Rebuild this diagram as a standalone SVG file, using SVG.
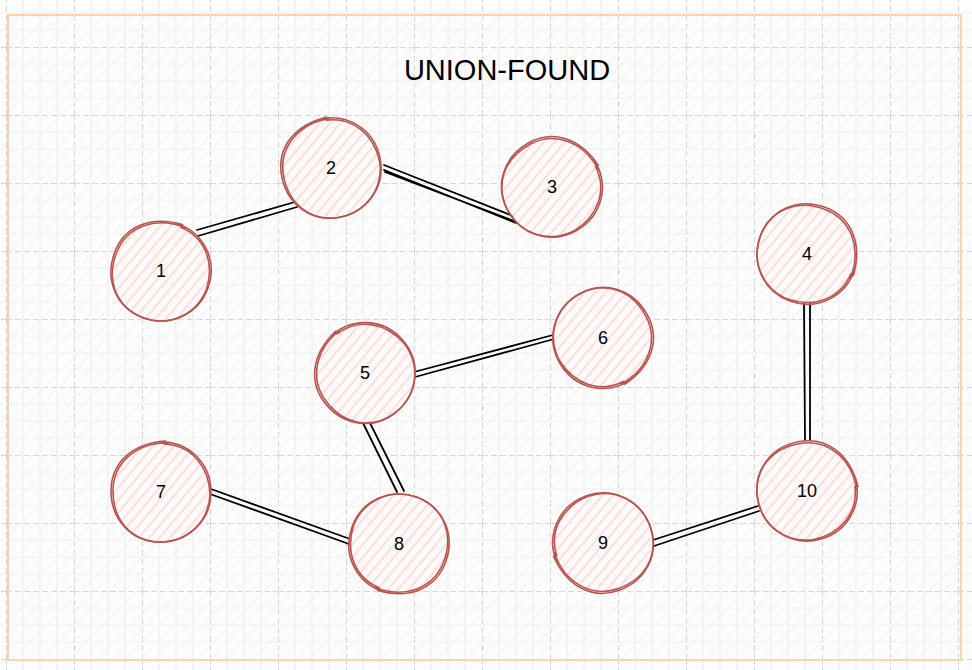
<svg xmlns="http://www.w3.org/2000/svg" xmlns:xlink="http://www.w3.org/1999/xlink" width="972" height="670" viewBox="0 0 972 670">
<defs>
<style>
.lbl{font-family:"Liberation Sans",Arial,sans-serif;font-size:18px;fill:#000;text-anchor:middle;dominant-baseline:central}
.title{font-family:"Liberation Sans",Arial,sans-serif;font-size:29px;fill:#000;text-anchor:middle}
.edge{stroke:#000;stroke-width:1.8;fill:none;stroke-linecap:round}
.ring{fill:none;stroke:#b85450;stroke-width:1.6}
.fill{fill:url(#nodehatch)}
</style>
<pattern id="grid" patternUnits="userSpaceOnUse" x="6" y="-21" width="68" height="68">
<path d="M17 0V68M34 0V68M51 0V68M0 17H68M0 34H68M0 51H68" stroke="#efefef" stroke-width="1.2"/>
<path d="M0.5 0V68M0 0.5H68" stroke="#d6d6d6" stroke-width="1" stroke-dasharray="6 3"/>
</pattern>
<pattern id="bghatch" patternUnits="userSpaceOnUse" width="10" height="10" patternTransform="rotate(-45)">
<path d="M0 5H10" stroke="#f1f1f1" stroke-width="1"/>
</pattern>
<pattern id="nodehatch" patternUnits="userSpaceOnUse" width="8" height="8" patternTransform="rotate(-50)">
<rect width="8" height="8" fill="#fffafa"/>
<path d="M0 4H8" stroke="#f6c4c2" stroke-width="1"/>
</pattern>
<g id="sk">
<path class="ring" d="M-4 -50 C 26 -52 50 -30 50 0 C 50 29 27 50 -1 50 C -29 50 -50 28 -50 -1 C -50 -28 -30 -49 5 -51"/>
<path class="ring" d="M3 -48 C 30 -47 48 -26 49 2 C 48 30 26 51 -3 50 C -31 48 -49 27 -48 -3 C -47 -29 -25 -50 8 -49"/>
</g>
</defs>
<rect width="972" height="670" fill="#fdfdfd"/>
<rect width="972" height="670" fill="url(#grid)"/>
<rect x="8" y="15" width="953" height="645" fill="url(#bghatch)"/>
<rect x="8" y="15" width="953" height="645" fill="none" stroke="#ffd3a8" stroke-width="2"/>
<text class="title" x="507" y="80">UNION-FOUND</text>
<g id="connectors">
<path class="edge" d="M197 230L295 202M198 236L297 207"/>
<path class="edge" d="M384 165L518 218M384 170L516 223M385 172L514 221"/>
<path class="edge" d="M414 372L553 335M415 377L554 339"/>
<path class="edge" d="M363 423L397 492M369 421L404 491"/>
<path class="edge" d="M211 489L350 539M210 494L349 544"/>
<path class="edge" d="M653 540L758 506M654 546L759 511"/>
<path class="edge" d="M804 304L805 440M810 304L810 440"/>
</g>
<g id="node1"><circle class="fill" cx="161" cy="271" r="49"/><use xlink:href="#sk" transform="translate(161,271) rotate(20)"/><text class="lbl" x="161" y="271">1</text></g>
<g id="node2"><circle class="fill" cx="331" cy="168" r="49"/><use xlink:href="#sk" transform="translate(331,168) rotate(-10)"/><text class="lbl" x="331" y="168">2</text></g>
<g id="node3"><circle class="fill" cx="552" cy="187" r="49"/><use xlink:href="#sk" transform="translate(552,187) rotate(60)"/><text class="lbl" x="552" y="187">3</text></g>
<g id="node4"><circle class="fill" cx="807" cy="254" r="49"/><use xlink:href="#sk" transform="translate(807,254) rotate(110)"/><text class="lbl" x="807" y="254">4</text></g>
<g id="node5"><circle class="fill" cx="365" cy="373" r="49"/><use xlink:href="#sk" transform="translate(365,373) rotate(-40)"/><text class="lbl" x="365" y="373">5</text></g>
<g id="node6"><circle class="fill" cx="603" cy="338" r="49"/><use xlink:href="#sk" transform="translate(603,338) rotate(150)"/><text class="lbl" x="603" y="338">6</text></g>
<g id="node7"><circle class="fill" cx="161" cy="492" r="49"/><use xlink:href="#sk" transform="translate(161,492) rotate(0)"/><text class="lbl" x="161" y="492">7</text></g>
<g id="node8"><circle class="fill" cx="399" cy="544" r="49"/><use xlink:href="#sk" transform="translate(399,544) rotate(200)"/><text class="lbl" x="399" y="544">8</text></g>
<g id="node9"><circle class="fill" cx="603" cy="543" r="49"/><use xlink:href="#sk" transform="translate(603,543) rotate(250)"/><text class="lbl" x="603" y="543">9</text></g>
<g id="node10"><circle class="fill" cx="807" cy="491" r="49"/><use xlink:href="#sk" transform="translate(807,491) rotate(80)"/><text class="lbl" x="807" y="491">10</text></g>
</svg>
